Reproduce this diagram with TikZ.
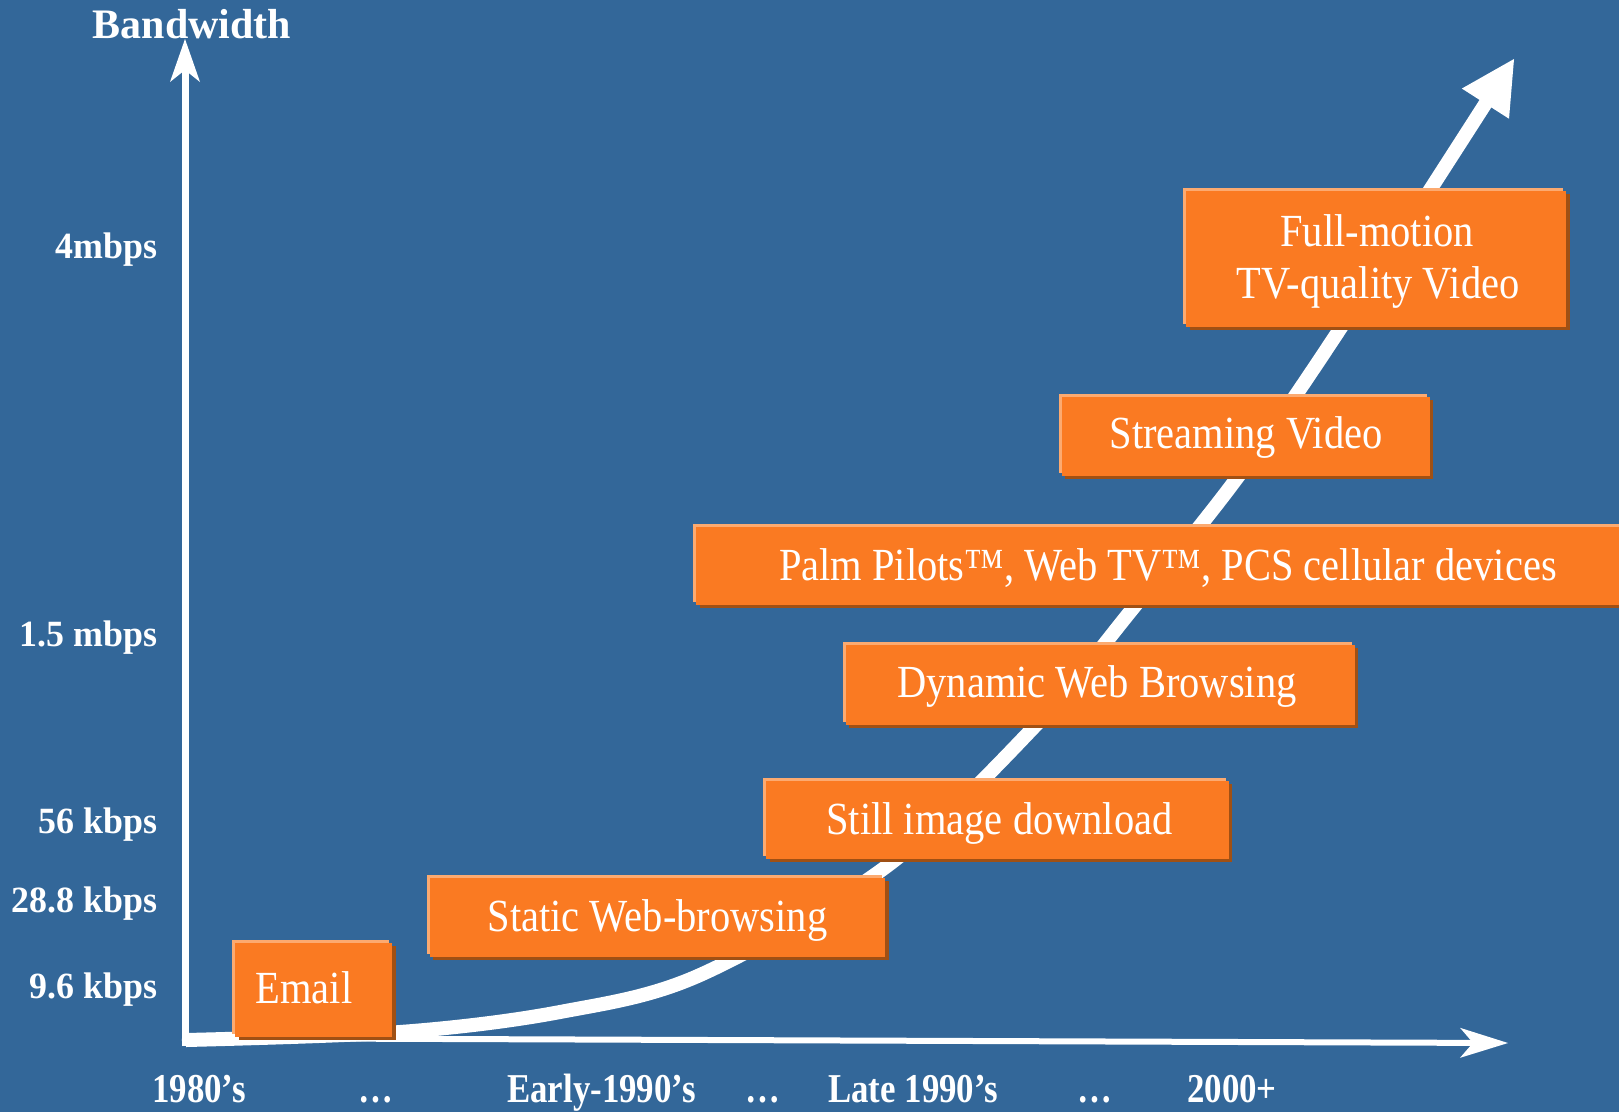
\documentclass[tikz,border=0pt]{standalone}
\usepackage{fontspec}
\setmainfont{Liberation Serif}
\newfontfamily\boxfont{Liberation Serif}[FakeStretch=0.88]
\newfontfamily\tickfont{Liberation Serif}[FakeStretch=0.97]
\newfontfamily\erafont{Liberation Serif}[FakeStretch=0.85]
\usetikzlibrary{arrows.meta,shadows}

\definecolor{slide}{RGB}{51,103,153}
\definecolor{boxfill}{RGB}{250,122,34}
\definecolor{boxlight}{RGB}{252,170,112}
\definecolor{boxdark}{RGB}{160,80,20}

\tikzset{
  stagebox/.style={fill=boxfill, draw=none, inner sep=0pt, outer sep=0pt,
    general shadow={shadow xshift=3.5pt, shadow yshift=-3pt, fill=boxdark},
    general shadow={shadow xshift=-3pt, shadow yshift=3pt, fill=boxlight}},
  stagetext/.style={text=white, inner sep=0pt, anchor=base,
    font=\boxfont\fontsize{46}{52}\selectfont},
  ticklabel/.style={text=white, inner sep=0pt, anchor=base east,
    font=\tickfont\bfseries\fontsize{37}{40}\selectfont},
  eralabel/.style={text=white, inner sep=0pt, anchor=base west,
    font=\erafont\bfseries\fontsize{41}{44}\selectfont},
  axisline/.style={draw=white, line width=7pt},
  growth/.style={draw=white, line width=14pt, line cap=butt},
}

\begin{document}
\begin{tikzpicture}[x=1pt,y=-1pt]
  \useasboundingbox (0,0) rectangle (1619,1112);
  \clip (0,0) rectangle (1619,1112);
  \fill[slide] (0,0) rectangle (1619,1112);

  % growth curve of bandwidth demand
  \draw[growth, -{Triangle[length=53pt,width=56pt,line width=0pt]}]
    plot[smooth, tension=0.55] coordinates {
      (186,1040) (400,1032) (560,1012) (700,975)
      (887,866) (1035,726) (1134,607) (1237,478) (1336,335) (1514,59)};

  % axes
  \coordinate (yfoot) at (185,1046);
  \coordinate (ytip)  at (185,39);
  \coordinate (xfoot) at (182,1038);
  \coordinate (xtip)  at (1508,1043);
  \draw[axisline, -{Stealth[length=43pt,width=30pt,inset=12pt,line width=0pt]}] (yfoot) -- (ytip);
  \draw[axisline, line width=6pt, -{Stealth[length=48pt,width=30pt,inset=13pt,line width=0pt]}] (xfoot) -- (xtip);

  % application boxes
  \node[stagebox, minimum width=157pt,   minimum height=94pt]   (email)   at (313.5,990)    {};
  \node[stagebox, minimum width=455.5pt, minimum height=79.5pt] (static)  at (657.25,917.25) {};
  \node[stagebox, minimum width=462.5pt, minimum height=77.5pt] (still)   at (997.25,819.75) {};
  \node[stagebox, minimum width=509pt,   minimum height=79.5pt] (dynamic) at (1100,684.75)  {};
  \node[stagebox, minimum width=934pt,   minimum height=77.5pt] (palm)    at (1163,565.75)  {};
  \node[stagebox, minimum width=368pt,   minimum height=79pt]   (stream)  at (1245.5,436.5) {};
  \node[stagebox, minimum width=380pt,   minimum height=136pt]  (fullmo)  at (1376,259)     {};

  \node[stagetext] (emailtxt)   at (304,1003.5)  {Email};
  \node[stagetext] (statictxt)  at (657.5,931)   {Static Web-browsing};
  \node[stagetext] (stilltxt)   at (999.5,834)   {Still image download};
  \node[stagetext] (dynamictxt) at (1097,697.7)  {Dynamic Web Browsing};
  \node[stagetext] (palmtxt)    at (1168,580)    {Palm Pilots™, Web TV™, PCS cellular devices};
  \node[stagetext] (streamtxt)  at (1246,448.3)  {Streaming Video};
  \node[stagetext] (fullmotxt)  at (1377,246.7)  {Full-motion};
  \node[stagetext] (fullmotxtb) at (1378,298.3)  {TV-quality Video};

  % axis title and bandwidth ticks
  \node[text=white, inner sep=0pt, anchor=base west, font=\bfseries\fontsize{42}{46}\selectfont]
    (ytitle) at (92.7,38.3) {Bandwidth};
  \node[ticklabel] (bw4)  at (157.5,258)   {4mbps};
  \node[ticklabel] (bw15) at (157.5,646)   {1.5 mbps};
  \node[ticklabel] (bw56) at (157.5,833.3) {56 kbps};
  \node[ticklabel] (bw28) at (157.5,912.7) {28.8 kbps};
  \node[ticklabel] (bw96) at (157.5,998.3) {9.6 kbps};

  % time axis labels
  \node[eralabel] (e80)   at (152,1102)  {1980’s};
  \node[eralabel] (dots1) at (358,1102)  {…};
  \node[eralabel] (e90a)  at (507,1102)  {Early-1990’s};
  \node[eralabel] (dots2) at (745,1102)  {…};
  \node[eralabel] (e90b)  at (828,1102)  {Late 1990’s};
  \node[eralabel] (dots3) at (1077,1102) {…};
  \node[eralabel] (e00)   at (1187,1102) {2000+};
\end{tikzpicture}
\end{document}
